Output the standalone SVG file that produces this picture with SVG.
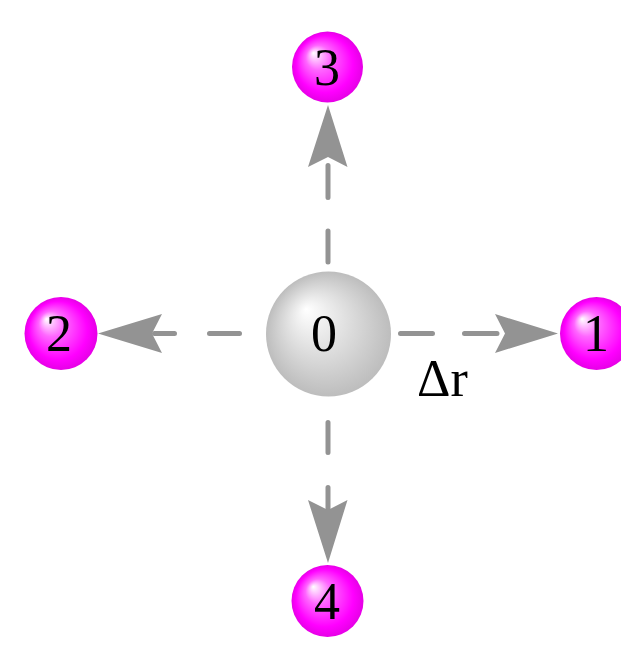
<svg xmlns="http://www.w3.org/2000/svg" width="621" height="647" viewBox="0 0 621 647">
<defs>
<radialGradient id="gm" cx="0.5" cy="0.5" r="0.5" fx="0.3" fy="0.3">
<stop offset="0" stop-color="#ffffff"/>
<stop offset="0.35" stop-color="#ff66ff"/>
<stop offset="0.8" stop-color="#ff00ff"/>
<stop offset="1" stop-color="#e600e6"/>
</radialGradient>
<radialGradient id="gg" cx="0.5" cy="0.5" r="0.5" fx="0.32" fy="0.3">
<stop offset="0" stop-color="#ffffff"/>
<stop offset="0.5" stop-color="#dedede"/>
<stop offset="1" stop-color="#bdbdbd"/>
</radialGradient>
<style>
.dash{stroke:#939393;stroke-width:5;stroke-linecap:round;fill:none}
.head{fill:#939393}
.ball{fill:url(#gm)}
.lbl{font-family:"Liberation Serif","Times New Roman",serif;font-size:52px;fill:#000;text-anchor:middle}
</style>
</defs>
<rect width="621" height="647" fill="#ffffff"/>
<g id="connectors">
<path class="dash" d="M328,262 L328,231 M328,197.5 L328,165.5"/>
<polygon class="head" points="328,105 347.5,167 328,157 308,167"/>
<path class="dash" d="M400.5,333.5 L432.5,333.5 M464.5,333.5 L497,333.5"/>
<polygon class="head" points="558,333.5 495,353 505,333.5 495,314"/>
<path class="dash" d="M239.5,333.5 L209.5,333.5 M174.5,333.5 L154.5,333.5"/>
<polygon class="head" points="98,333.5 162,314 152,333.5 162,353"/>
<path class="dash" d="M328,422.5 L328,452.5 M328,487.5 L328,510"/>
<polygon class="head" points="328,563 308,500 328,510 347.5,500"/>
</g>
<g id="node0">
<circle cx="328.5" cy="334" r="62.5" fill="url(#gg)"/>
<text class="lbl" x="324" y="351">0</text>
</g>
<g id="node1">
<circle class="ball" cx="596.5" cy="333.5" r="36.5"/>
<text class="lbl" x="596" y="351">1</text>
</g>
<g id="node2">
<circle class="ball" cx="61" cy="333.5" r="36.5"/>
<text class="lbl" x="59" y="351">2</text>
</g>
<g id="node3">
<circle class="ball" cx="327.5" cy="67" r="35.5"/>
<text class="lbl" x="327" y="84.5">3</text>
</g>
<g id="node4">
<circle class="ball" cx="327.5" cy="601" r="36"/>
<text class="lbl" x="327" y="618.5">4</text>
</g>
<g id="label-dr">
<text x="417" y="396" style="font-family:'Liberation Serif','Times New Roman',serif;font-size:52px;fill:#000">Δr</text>
</g>
</svg>
